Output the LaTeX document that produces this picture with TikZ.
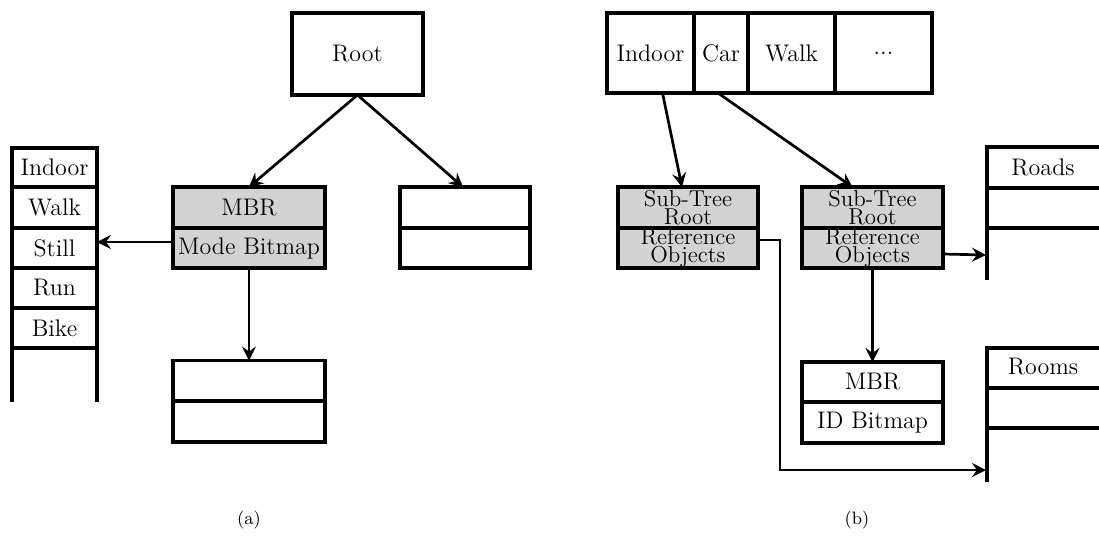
\documentclass[tikz,border=0pt]{standalone}
\usetikzlibrary{arrows.meta,calc}
\definecolor{cellgray}{RGB}{211,211,211}
\begin{document}
\begin{tikzpicture}[x=0.5pt,y=-0.5pt,
  box/.style={draw,line width=1.65pt,inner sep=0pt,outer sep=0pt,font=\fontsize{12}{14}\selectfont},
  gbox/.style={box,fill=cellgray},
  two/.style={align=center,font=\fontsize{11.5}{9}\selectfont},
  arr/.style={line width=1.35pt,-{Stealth[length=7pt,width=7pt,inset=2.5pt]}},
  wline/.style={line width=1.65pt},
  captxt/.style={font=\fontsize{9}{11}\selectfont}]
\useasboundingbox (0,0) rectangle (1099,543);
% ---------- (a) ----------
\node[box,minimum width=65.5pt,minimum height=41pt] (root) at (357.5,54) {Root};
\node[gbox,minimum width=76pt,minimum height=20.5pt] (mbr) at (249,207.5) {MBR};
\node[gbox,minimum width=76pt,minimum height=20pt] (mode) at (249,248) {Mode Bitmap};
\node[box,minimum width=65pt,minimum height=20.5pt] (ra1) at (465,207.5) {};
\node[box,minimum width=65pt,minimum height=20pt] (ra2) at (465,248) {};
\node[box,minimum width=76pt,minimum height=20.5pt] (ba1) at (249,381) {};
\node[box,minimum width=76pt,minimum height=20.5pt] (ba2) at (249,421.5) {};
% mode list
\node[box,minimum width=42.5pt,minimum height=19.5pt] (lindoor) at (54.5,167.5) {Indoor};
\node[box,minimum width=42.5pt,minimum height=20.5pt] (lwalk) at (54.5,207.5) {Walk};
\node[box,minimum width=42.5pt,minimum height=20pt] (lstill) at (54.5,248) {Still};
\node[box,minimum width=42.5pt,minimum height=20pt] (lrun) at (54.5,288) {Run};
\node[box,minimum width=42.5pt,minimum height=20pt] (lbike) at (54.5,328) {Bike};
\coordinate (lbl) at (12,402);
\coordinate (lbr) at (97,402);
\draw[wline] (lbike.south west) -- (lbl);
\draw[wline] (lbike.south east) -- (lbr);
% connectors (a)
\draw[arr] (root.south) -- (mbr.north);
\draw[arr] (root.south) -- ([xshift=-1pt]ra1.north);
\draw[arr] ([yshift=3pt]mode.west) -- ([yshift=3pt]lstill.east);
\draw[arr] (mode.south) -- (ba1.north);
\node[captxt] (capa) at (249,520) {(a)};
% ---------- (b) ----------
\node[box,minimum width=43.5pt,minimum height=40pt] (tindoor) at (650.5,53) {Indoor};
\node[box,minimum width=27pt,minimum height=40pt] (tcar) at (721,53) {Car};
\node[box,minimum width=43.5pt,minimum height=40pt] (twalk) at (791.5,53) {Walk};
\node[box,minimum width=48.5pt,minimum height=40pt] (tdots) at (883.5,53) {...};
\node[gbox,two,minimum width=70pt,minimum height=20.5pt] (sub1) at (688,207.5) {Sub-Tree\\Root};
\node[gbox,two,minimum width=70pt,minimum height=20pt] (ref1) at (688,248) {Reference\\Objects};
\node[gbox,two,minimum width=70.5pt,minimum height=20.5pt] (sub2) at (872.5,207.5) {Sub-Tree\\Root};
\node[gbox,two,minimum width=70.5pt,minimum height=20pt] (ref2) at (872.5,248) {Reference\\Objects};
\node[box,minimum width=70.5pt,minimum height=20pt] (idmbr) at (872.5,382) {MBR};
\node[box,minimum width=70.5pt,minimum height=20.5pt] (idbit) at (872.5,422.5) {ID Bitmap};
% Roads list
\draw[wline] (1099,147) -- (987,147) -- (987,280);
\draw[wline] (987,188) -- (1099,188);
\draw[wline] (987,228) -- (1099,228);
\node[font=\fontsize{12}{14}\selectfont] (roads) at (1043,167) {Roads};
\coordinate (roadsin) at (986,255);
% Rooms list
\draw[wline] (1099,348) -- (987,348) -- (987,482);
\draw[wline] (987,388) -- (1099,388);
\draw[wline] (987,428) -- (1099,428);
\node[font=\fontsize{12}{14}\selectfont] (rooms) at (1043,367) {Rooms};
\coordinate (roomsin) at (986,470);
\coordinate (bend) at (780,470);
% connectors (b)
\draw[arr] ([xshift=6pt]tindoor.south) -- ([xshift=-3pt]sub1.north);
\draw[arr] ([xshift=-1.5pt]tcar.south) -- ([xshift=-10pt]sub2.north);
\draw[arr] ([yshift=-3pt]ref2.east) -- (roadsin);
\draw[arr] (ref2.south -| idmbr.north) -- (idmbr.north);
\draw[arr] ([yshift=4pt]ref1.east) -| (bend) -- (roomsin);
\node[captxt] (capb) at (857,520) {(b)};
\end{tikzpicture}
\end{document}
